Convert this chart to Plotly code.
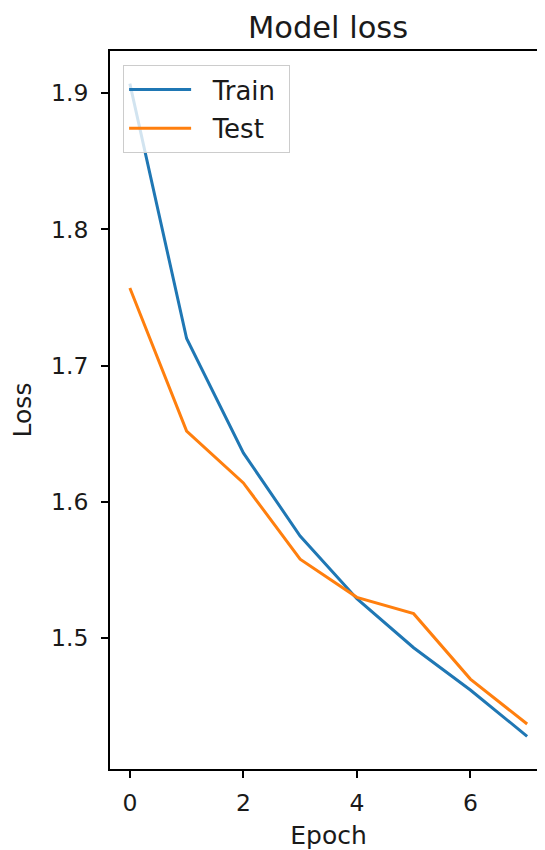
import plotly.graph_objects as go

epochs = [0, 1, 2, 3, 4, 5, 6, 7]
train_loss = [1.907, 1.720, 1.636, 1.575, 1.529, 1.493, 1.462, 1.428]
test_loss = [1.757, 1.652, 1.614, 1.558, 1.530, 1.518, 1.470, 1.437]
x_ticks = [0, 2, 4, 6]
y_ticks = [1.5, 1.6, 1.7, 1.8, 1.9]
series_names = ["Train", "Test"]

FONT = "DejaVu Sans"
TXT = "#1a1a1a"
PAD_L = "\u00a0\u00a0"
PAD_R = "\u00a0"

fig = go.Figure()
fig.add_trace(go.Scatter(x=epochs, y=train_loss, mode="lines", name=PAD_L + series_names[0] + PAD_R,
                         line=dict(color="#1f77b4", width=3), legendgroup="a"))
fig.add_trace(go.Scatter(x=epochs, y=test_loss, mode="lines", name=PAD_L + series_names[1] + PAD_R,
                         line=dict(color="#ff7f0e", width=3), legendgroup="b"))

axis_common = dict(showgrid=False, zeroline=False, showline=True, linecolor="black",
                   linewidth=1.7, ticks="outside", ticklen=7, tickwidth=1.7,
                   tickcolor="black",
                   tickfont=dict(family=FONT, size=23.5, color=TXT))

fig.update_xaxes(range=[-0.35, 7.35], tickvals=x_ticks, mirror=True, ticklabelstandoff=5,
                 title=dict(text="Epoch", font=dict(family=FONT, size=25, color=TXT), standoff=10),
                 **axis_common)
fig.update_yaxes(range=[1.404, 1.931], tickvals=y_ticks, ticktext=[f"{v:.1f}" for v in y_ticks],
                 mirror=False, ticklabelstandoff=8,
                 title=dict(text="Loss", font=dict(family=FONT, size=25, color=TXT), standoff=13),
                 **axis_common)

fig.update_layout(
    width=545, height=850,
    margin=dict(l=102, r=6, t=43, b=89, autoexpand=False),
    plot_bgcolor="white", paper_bgcolor="white",
    title=dict(text="Model loss", x=320 / 545, xanchor="center", y=1 - 19 / 850, yanchor="middle",
               font=dict(family=FONT, size=30.5, color=TXT)),
    showlegend=True,
    legend=dict(x=0.03, y=0.9805, xanchor="left", yanchor="top",
                bgcolor="rgba(255,255,255,0.8)", bordercolor="#cccccc", borderwidth=1,
                font=dict(family=FONT, size=26, color=TXT), itemwidth=62,
                tracegroupgap=2),
)

fig.write_html("out.html")
